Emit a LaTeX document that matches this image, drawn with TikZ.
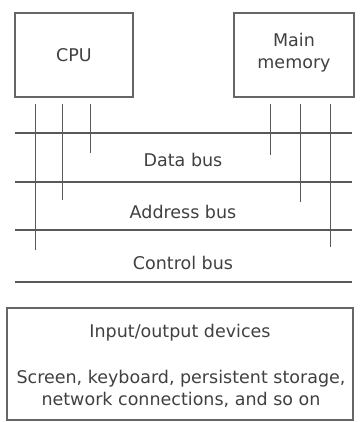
\documentclass[tikz,border=0pt]{standalone}
\usepackage{fontspec}
\setmainfont{DejaVu Sans}
\begin{document}
\begin{tikzpicture}[x=1pt,y=-1pt,
  box/.style={draw=black!60,line width=1.4pt},
  lbl/.style={text=black!75,font=\fontsize{17.5}{22}\selectfont,inner sep=0pt,align=center},
  bus/.style={draw=black!65,line width=1.3pt},
  tap/.style={draw=black!65,line width=1pt}]
\useasboundingbox (0,0) rectangle (362,422);
% boxes
\draw[box] (15,13) rectangle (133,97);
\node[lbl] (cpu) at (74,55) {CPU};
\draw[box] (234,13) rectangle (354,97);
\node[lbl] (mem) at (294,53) {Main\\memory};
% bus lines
\coordinate (b0l) at (15,133); \coordinate (b0r) at (352,133);
\coordinate (b1l) at (15,182); \coordinate (b1r) at (352,182);
\coordinate (b2l) at (15,230); \coordinate (b2r) at (352,230);
\coordinate (b3l) at (15,282); \coordinate (b3r) at (352,282);
\draw[bus] (b0l) -- (b0r);
\draw[bus] (b1l) -- (b1r);
\draw[bus] (b2l) -- (b2r);
\draw[bus] (b3l) -- (b3r);
\node[lbl] (data) at (183,160) {Data bus};
\node[lbl] (addr) at (183,212) {Address bus};
\node[lbl] (ctrl) at (183,263) {Control bus};
% taps
\coordinate (c1t) at (35,104); \coordinate (c1b) at (35,250);
\coordinate (c2t) at (62,104); \coordinate (c2b) at (62,200);
\coordinate (c3t) at (90,104); \coordinate (c3b) at (90,153);
\coordinate (m1t) at (270,104); \coordinate (m1b) at (270,155);
\coordinate (m2t) at (300,104); \coordinate (m2b) at (300,202);
\coordinate (m3t) at (330,104); \coordinate (m3b) at (330,247);
\foreach \a/\b in {c1t/c1b,c2t/c2b,c3t/c3b,m1t/m1b,m2t/m2b,m3t/m3b}
  \draw[tap] (\a) -- (\b);
% IO box
\draw[box] (7,308) rectangle (353,420);
\node[lbl] (io) at (180,333) {Input/output devices};
\node[lbl] (iol) at (181,389) {Screen, keyboard, persistent storage,\\network connections, and so on};
\end{tikzpicture}
\end{document}
